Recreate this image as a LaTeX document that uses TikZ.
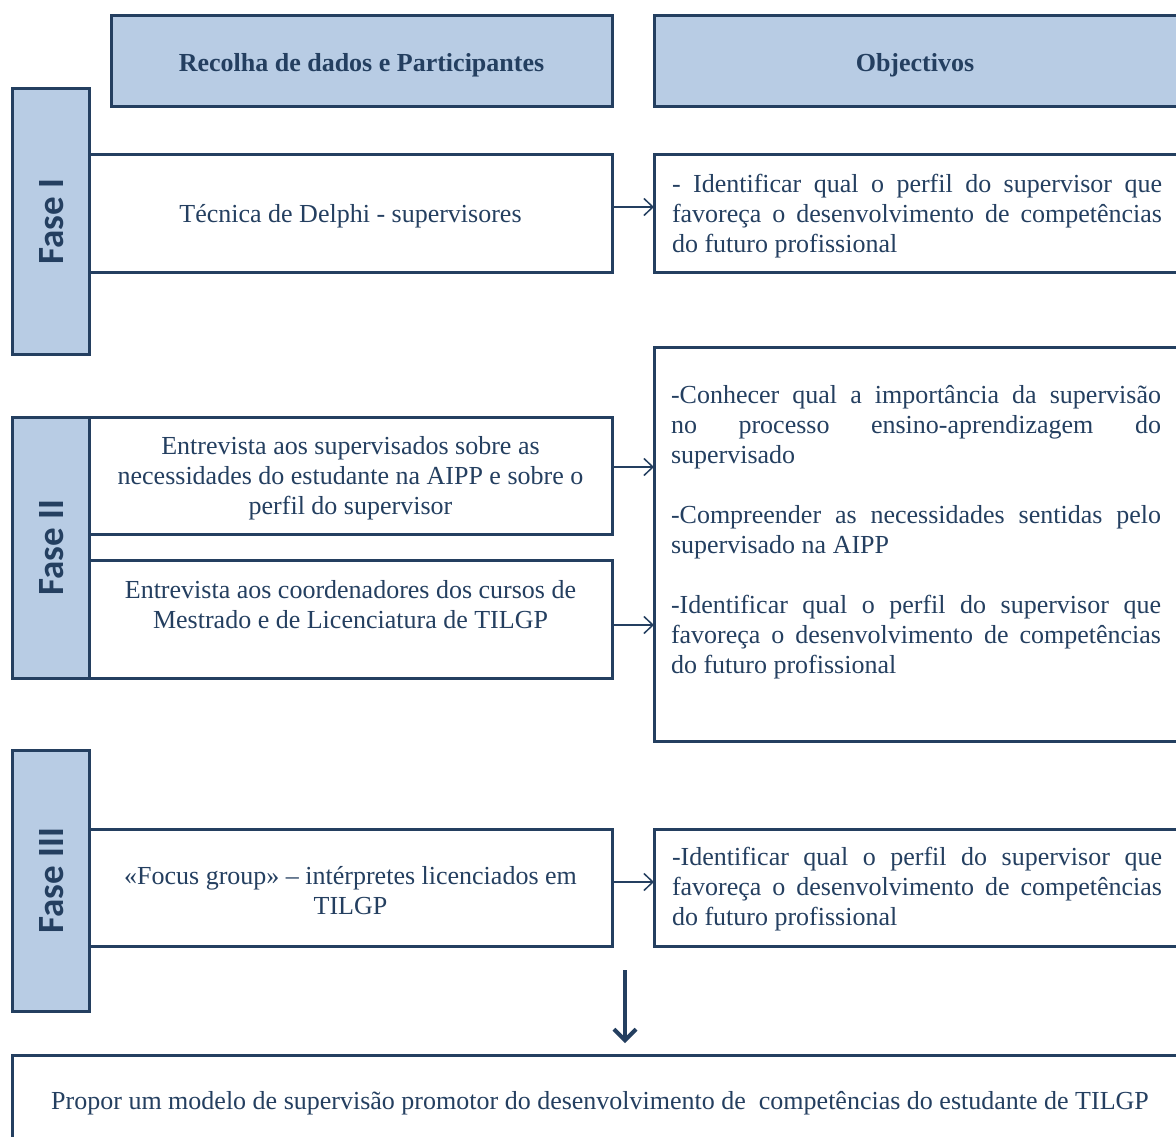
\documentclass[tikz,border=0pt]{standalone}
\usepackage{fontspec}
\setmainfont{Liberation Serif}
\newfontfamily\fasefont{Carlito}
\usetikzlibrary{arrows.meta}
\definecolor{navy}{HTML}{243F60}
\definecolor{lblue}{HTML}{B8CCE4}
\newcommand\jtext[1]{\parbox[t]{490pt}{\tolerance=10000\hyphenpenalty=10000\relax #1}}
\newcommand\jctext[1]{\parbox{490pt}{\tolerance=10000\hyphenpenalty=10000\relax #1}}
\begin{document}
\begin{tikzpicture}[x=1pt,y=-1pt,
  every node/.style={inner sep=0pt, outer sep=0pt, text=navy, font=\fontsize{26}{30}\selectfont},
  hdrbox/.style={rectangle, draw=navy, line width=3pt, fill=lblue},
  fasebox/.style={rectangle, draw=navy, line width=3pt, fill=lblue},
  fasetext/.style={rotate=90, font=\fontsize{37}{40}\selectfont\fasefont\bfseries},
  wbox/.style={rectangle, draw=navy, line width=3pt, fill=white},
  boxtext/.style={align=center},
  smallarr/.style={draw=navy, line width=1.5pt, -{Straight Barb[length=9pt,width=17pt]}},
  bigarr/.style={draw=navy, line width=4pt, -{Straight Barb[length=11pt,width=22pt]}}]
\useasboundingbox (0,0) rectangle (1176,1137);
\clip (0,0) rectangle (1176,1137);
\fill[white] (0,0) rectangle (1176,1137);

% headers
\node[hdrbox, minimum width=501pt, minimum height=91pt] (hdr1) at (361.5,61.5) {};
\node[hdrbox, minimum width=526pt, minimum height=91pt] (hdr2) at (917,61.5) {};
\node[font=\fontsize{26}{30}\selectfont\bfseries] (hdr1t) at ([yshift=-4pt]hdr1.center) {Recolha de dados e Participantes};
\node[font=\fontsize{26}{30}\selectfont\bfseries] (hdr2t) at ([xshift=-2pt,yshift=-4pt]hdr2.center) {Objectivos};

% phase boxes
\node[fasebox, minimum width=77pt, minimum height=265pt] (fase1) at (50.5,221.5) {};
\node[fasebox, minimum width=77pt, minimum height=261pt] (fase2) at (50.5,547.5) {};
\node[fasebox, minimum width=77pt, minimum height=261pt] (fase3) at (50.5,880.5) {};
\node[fasetext] (fase1t) at ([xshift=1pt]fase1.center) {Fase I};
\node[fasetext] (fase2t) at ([xshift=1pt]fase2.center) {Fase II};
\node[fasetext] (fase3t) at ([xshift=1pt]fase3.center) {Fase III};

% left boxes
\node[wbox, minimum width=523pt, minimum height=117pt] (delphi) at (350.5,213.5) {};
\node[wbox, minimum width=523pt, minimum height=117pt] (ent1) at (350.5,475.5) {};
\node[wbox, minimum width=523pt, minimum height=118pt] (ent2) at (350.5,619) {};
\node[wbox, minimum width=523pt, minimum height=117pt] (focus) at (350.5,887.5) {};
\node[boxtext] (delphit) at ([yshift=-3pt]delphi.center) {Técnica de Delphi - supervisores};
\node[boxtext] (ent1t) at ([yshift=-3pt]ent1.center) {Entrevista aos supervisados sobre as\\necessidades do estudante na AIPP e sobre o\\perfil do supervisor};
\node[boxtext] (ent2t) at (350.5,605) {Entrevista aos coordenadores dos cursos de\\Mestrado e de Licenciatura de TILGP};
\node[boxtext] (focust) at ([yshift=-3pt]focus.center) {«Focus group» – intérpretes licenciados em\\TILGP};

% right boxes
\node[wbox, minimum width=526pt, minimum height=117pt] (obj1) at (917,213.5) {};
\node[wbox, minimum width=526pt, minimum height=394pt] (obj2) at (917,544) {};
\node[wbox, minimum width=526pt, minimum height=117pt] (obj3) at (917,887.5) {};
\node (obj1t) at ([yshift=-3pt]obj1.center) {\jctext{- Identificar qual o perfil do supervisor que\linebreak favoreça o desenvolvimento de competências\linebreak do futuro profissional}};
\node[anchor=base west] (obj2t) at (671,403) {\jtext{-Conhecer qual a importância da supervisão\linebreak no processo ensino-aprendizagem do\linebreak supervisado\par\vspace{30pt}-Compreender as necessidades sentidas pelo\linebreak supervisado na AIPP\par\vspace{30pt}-Identificar qual o perfil do supervisor que\linebreak favoreça o desenvolvimento de competências\linebreak do futuro profissional}};
\node (obj3t) at ([yshift=-2pt]obj3.center) {\jctext{-Identificar qual o perfil do supervisor que\linebreak favoreça o desenvolvimento de competências\linebreak do futuro profissional}};

% final box
\node[wbox, minimum width=1168pt, minimum height=90pt] (final) at (596,1100) {};
\node (finalt) at ([xshift=4pt,yshift=-3pt]final.center) {Propor um modelo de supervisão promotor do desenvolvimento de \ competências do estudante de TILGP};

% connectors
\draw[smallarr] (delphi.east |- 0,207) -- (obj1.west |- 0,207);
\draw[smallarr] (ent1.east |- 0,467) -- (obj2.west |- 0,467);
\draw[smallarr] (ent2.east |- 0,625) -- (obj2.west |- 0,625);
\draw[smallarr] (focus.east |- 0,882) -- (obj3.west |- 0,882);
\coordinate (dtop) at (625,970);
\draw[bigarr, shorten >=12pt] (dtop) -- (dtop |- final.north);
\end{tikzpicture}
\end{document}
